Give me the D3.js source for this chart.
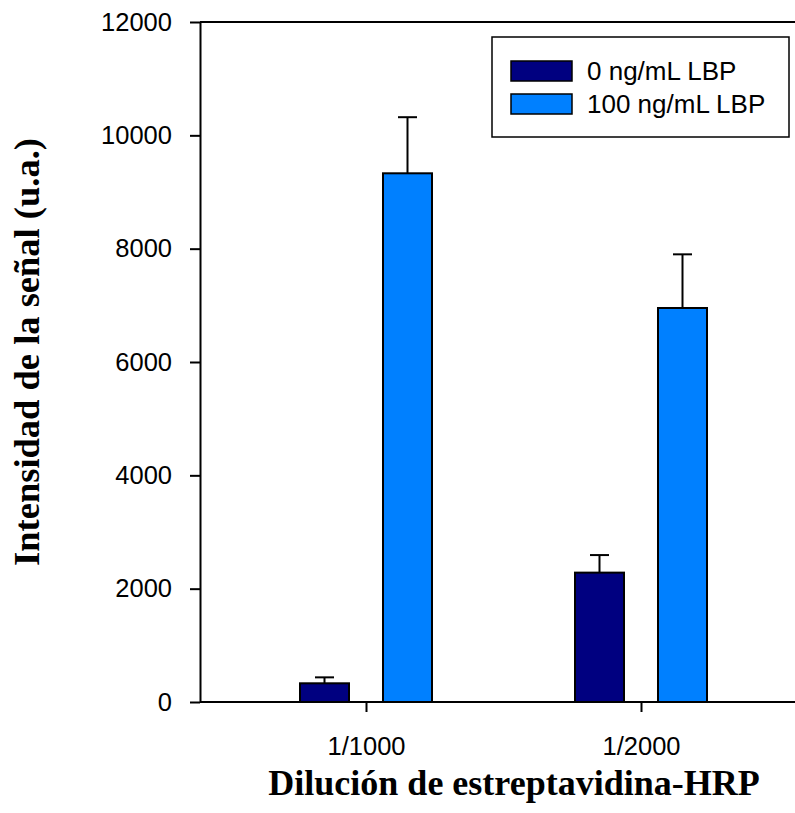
<!DOCTYPE html>
<html>
<head>
<meta charset="utf-8">
<script src="https://cdn.jsdelivr.net/npm/d3@7"></script>
<style>
  html, body { margin: 0; padding: 0; background: #fff; }
  svg { display: block; }
</style>
</head>
<body>
<script>
// ---- data ----
const categories = ["1/1000", "1/2000"];
const seriesNames = ["0 ng/mL LBP", "100 ng/mL LBP"];
const values0 = [330, 2283];      // 0 ng/mL LBP
const errors0 = [105, 310];
const values100 = [9330, 6953];   // 100 ng/mL LBP
const errors100 = [990, 947];
const yTicks = [0, 2000, 4000, 6000, 8000, 10000, 12000];
const colors = ["#000080", "#0080FF"];
const yTitle = "Intensidad de la señal (u.a.)";
const xTitle = "Dilución de estreptavidina-HRP";

const W = 795, H = 813;
const plotLeft = 200, plotRight = 795, plotTop = 22, plotBottom = 702;

const svg = d3.select("body").append("svg").attr("width", W).attr("height", H);

const y = d3.scaleLinear().domain([0, 12000]).range([plotBottom, plotTop]);
const x0 = d3.scalePoint().domain(categories).range([366, 641]);
const x1 = d3.scaleBand().domain(seriesNames).range([-66, 66]).paddingInner(0.4096);

const rows = [];
categories.forEach((c, i) => {
  rows.push({cat: c, s: seriesNames[0], v: values0[i], e: errors0[i], col: colors[0]});
  rows.push({cat: c, s: seriesNames[1], v: values100[i], e: errors100[i], col: colors[1]});
});

// error bars (upper only), drawn before bars
const eb = svg.append("g").attr("stroke", "#000").attr("stroke-width", 2).attr("fill", "none");
rows.forEach(d => {
  const cx = x0(d.cat) + x1(d.s) + x1.bandwidth() / 2;
  eb.append("line").attr("x1", cx).attr("x2", cx).attr("y1", y(d.v)).attr("y2", y(d.v + d.e));
  eb.append("line").attr("x1", cx - 9.5).attr("x2", cx + 9.5).attr("y1", y(d.v + d.e)).attr("y2", y(d.v + d.e));
});

// bars
svg.append("g").selectAll("rect").data(rows).join("rect")
  .attr("x", d => x0(d.cat) + x1(d.s))
  .attr("width", x1.bandwidth())
  .attr("y", d => y(d.v))
  .attr("height", d => y(0) - y(d.v))
  .attr("fill", d => d.col)
  .attr("stroke", "#000")
  .attr("stroke-width", 2);

// y axis
const yAxis = svg.append("g").attr("transform", `translate(${plotLeft},0)`)
  .call(d3.axisLeft(y).tickValues(yTicks).tickFormat(d3.format("d")).tickSize(10).tickPadding(18).tickSizeOuter(0));
yAxis.select(".domain").attr("stroke-width", 2);
yAxis.selectAll(".tick line").attr("stroke-width", 2);
yAxis.selectAll("text").attr("font-family", "Liberation Sans, Arial, sans-serif").attr("font-size", 25.5).attr("fill", "#000");

// x axis
const xAxis = svg.append("g").attr("transform", `translate(0,${plotBottom})`)
  .call(d3.axisBottom(x0).tickSize(10).tickPadding(25).tickSizeOuter(0));
xAxis.select(".domain").remove();
xAxis.selectAll(".tick line").attr("stroke-width", 2);
xAxis.selectAll("text").attr("font-family", "Liberation Sans, Arial, sans-serif").attr("font-size", 25.5).attr("fill", "#000");

// x axis line and top frame line
svg.append("line").attr("x1", plotLeft).attr("x2", plotRight).attr("y1", y(0)).attr("y2", y(0))
  .attr("stroke", "#000").attr("stroke-width", 2);
svg.append("line").attr("x1", plotLeft).attr("x2", plotRight).attr("y1", y(12000)).attr("y2", y(12000))
  .attr("stroke", "#000").attr("stroke-width", 2);

// legend
const lg = svg.append("g");
lg.append("rect").attr("x", 492).attr("y", 37).attr("width", 297).attr("height", 100)
  .attr("fill", "#fff").attr("stroke", "#000").attr("stroke-width", 1.5);
seriesNames.forEach((s, i) => {
  lg.append("rect").attr("x", 511).attr("y", 61 + i * 33).attr("width", 61).attr("height", 20)
    .attr("fill", colors[i]).attr("stroke", "#000").attr("stroke-width", 1.5);
  lg.append("text").attr("x", 587).attr("y", 80 + i * 33).text(s)
    .attr("font-family", "Liberation Sans, Arial, sans-serif").attr("font-size", 26).attr("fill", "#000");
});

// titles
svg.append("text").attr("transform", "translate(39,352) rotate(-90)")
  .attr("text-anchor", "middle").attr("font-family", "Liberation Serif, Times New Roman, serif")
  .attr("font-weight", "bold").attr("font-size", 36.5).attr("fill", "#000").text(yTitle);
svg.append("text").attr("x", 514).attr("y", 795)
  .attr("text-anchor", "middle").attr("font-family", "Liberation Serif, Times New Roman, serif")
  .attr("font-weight", "bold").attr("font-size", 36).attr("fill", "#000").text(xTitle);
</script>
</body>
</html>
